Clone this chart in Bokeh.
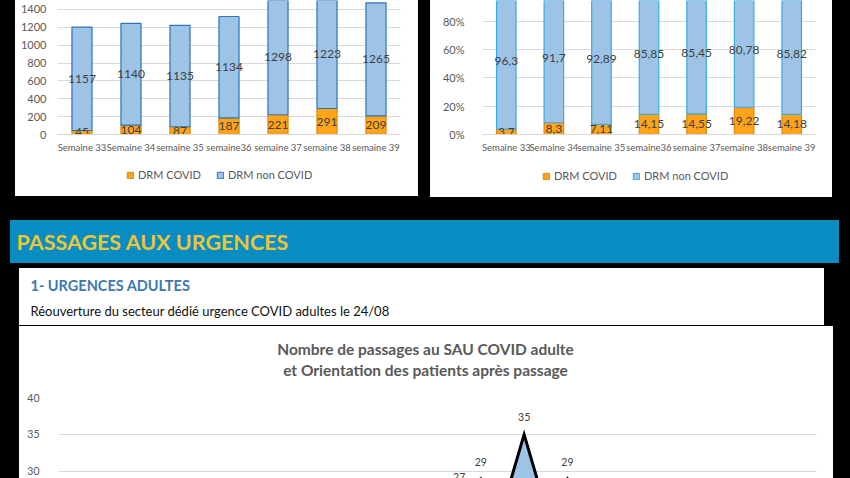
from bokeh.plotting import figure
from bokeh.layouts import column, row
from bokeh.models import (ColumnDataSource, FactorRange, Range1d, FixedTicker,
                          PrintfTickFormatter, Label, Spacer, CDSView,
                          BooleanFilter)
from bokeh.core.properties import value
from bokeh.embed import file_html
from bokeh.resources import INLINE

try:
    from bokeh.models import GlobalInlineStyleSheet
    SHEETS = [GlobalInlineStyleSheet(css="html, body { margin: 0; padding: 0; background: black; overflow: hidden; }")]
except Exception:
    SHEETS = []

# ---------------- data ----------------
weeks = ["Semaine 33", "Semaine 34", "semaine 35", "semaine36",
         "semaine 37", "semaine 38", "semaine 39"]
drm_covid = [45, 104, 87, 187, 221, 291, 209]
drm_non_covid = [1157, 1140, 1135, 1134, 1298, 1223, 1265]
pct_covid = [3.7, 8.3, 7.11, 14.15, 14.55, 19.22, 14.18]
pct_non_covid = [96.3, 91.7, 92.89, 85.85, 85.45, 80.78, 85.82]

days = ["24/08", "25/08", "26/08", "27/08", "28/08", "29/08", "30/08",
        "31/08", "01/09", "02/09", "03/09", "04/09", "05/09", "06/09",
        "07/09", "08/09", "09/09", "10/09", "11/09", "12/09", "13/09",
        "14/09", "15/09", "16/09", "17/09", "18/09", "19/09", "20/09",
        "21/09", "22/09", "23/09", "24/09", "25/09", "26/09", "27/09"]
passages = [8, 12, 10, 14, 11, 9, 7, 13, 15, 12, 16, 14, 10, 9, 18, 20, 17,
            22, 27, 29, 25, 35, 25, 29, 24, 21, 16, 23, 25, 22, 24, 19, 15,
            21, 20]

FONT = "Lato"
GRAY = "#595959"
LBL = "#404040"
GRID = "#D9D9D9"
ORANGE = "#FFA31A"
ORANGE_EDGE = "#E08A0A"
BLUE = "#9DC3E6"
BLUE_EDGE = "#2E75B6"
CYAN_EDGE = "#3AAAE0"


def fr(v):
    return ("%g" % v).replace(".", ",")


def paint(p, color):
    p.outline_line_color = None
    p.background_fill_color = color
    p.border_fill_color = color
    p.styles = {"background-color": color}


def style_bar_fig(p, standoff):
    paint(p, "white")
    p.xgrid.grid_line_color = None
    p.ygrid.grid_line_color = GRID
    p.yaxis.axis_line_color = None
    p.yaxis.major_tick_line_color = None
    p.yaxis.minor_tick_line_color = None
    p.yaxis.major_label_standoff = standoff
    p.yaxis.major_label_text_font = FONT
    p.yaxis.major_label_text_font_size = "11px"
    p.yaxis.major_label_text_color = GRAY
    p.xaxis.axis_line_color = GRID
    p.xaxis.major_tick_line_color = None
    p.xaxis.minor_tick_line_color = None
    p.xaxis.major_tick_out = 0
    p.xaxis.major_label_standoff = 7
    p.xaxis.major_label_text_font = FONT
    p.xaxis.major_label_text_font_size = "9.5px"
    p.xaxis.major_label_text_color = GRAY


def blank(w, h, color, left=0, right=0):
    p = figure(width=w, height=h, x_range=Range1d(left, w - right),
               y_range=Range1d(h, 0), x_axis_location=None,
               y_axis_location=None, min_border=0, min_border_left=left,
               min_border_right=right, toolbar_location=None,
               output_backend="svg")
    p.grid.visible = False
    paint(p, color)
    return p


def legend_fig(w, h, left, right, src, edge, loc):
    p = blank(w, h, "white", left, right)
    a = p.vbar(x="c", top="c", width=1, source=src, fill_color=ORANGE,
               line_color=ORANGE_EDGE, legend_label="DRM COVID")
    b = p.vbar(x="c", top="c", width=1, source=src, fill_color=BLUE,
               line_color=edge, legend_label="DRM non COVID")
    a.visible = False
    b.visible = False
    lg = p.legend[0]
    lg.location = loc
    lg.orientation = "horizontal"
    lg.glyph_width = 8
    lg.glyph_height = 8
    lg.label_height = 12
    lg.label_standoff = 4
    lg.spacing = 15
    lg.padding = 0
    lg.margin = 0
    lg.border_line_color = None
    lg.background_fill_alpha = 0
    lg.inactive_fill_alpha = 0
    lg.label_text_font = FONT
    lg.label_text_font_size = "11px"
    lg.label_text_color = GRAY
    return p


# ---------------- chart 1: counts ----------------
tot = [a + b for a, b in zip(drm_covid, drm_non_covid)]
src1 = ColumnDataSource(dict(
    x=weeks, c=drm_covid, t=tot,
    cm=[v / 2 for v in drm_covid],
    nm=[a + b / 2 for a, b in zip(drm_covid, drm_non_covid)],
    ct=[str(v) for v in drm_covid], nt=[str(v) for v in drm_non_covid]))

f1 = figure(width=403, height=155, x_range=FactorRange(*weeks, range_padding=0),
            y_range=Range1d(0, 1500), min_border_left=42, min_border_right=18,
            min_border_top=0, min_border_bottom=20, toolbar_location=None,
            output_backend="svg")
f1.yaxis.ticker = FixedTicker(ticks=[0, 200, 400, 600, 800, 1000, 1200, 1400])
style_bar_fig(f1, 5)
f1.vbar(x="x", top="c", bottom=0, width=0.41, source=src1, fill_color=ORANGE,
        line_color=ORANGE_EDGE, line_width=1.2)
f1.vbar(x="x", top="t", bottom="c", width=0.41, source=src1, fill_color=BLUE,
        line_color=BLUE_EDGE, line_width=1.2)
for ycol, tcol in (("cm", "ct"), ("nm", "nt")):
    f1.text(x="x", y=ycol, text=tcol, source=src1, text_align="center",
            text_baseline="middle", text_font=value(FONT),
            text_font_size="12px", text_color=LBL)
lf1 = legend_fig(403, 41, 42, 18, src1, BLUE_EDGE, (69, 15))

# ---------------- chart 2: percentages ----------------
src2 = ColumnDataSource(dict(
    x=weeks, c=pct_covid, t=[a + b for a, b in zip(pct_covid, pct_non_covid)],
    cm=[v / 2 for v in pct_covid],
    nm=[a + b / 2 for a, b in zip(pct_covid, pct_non_covid)],
    ct=[fr(v) for v in pct_covid], nt=[fr(v) for v in pct_non_covid]))

f2 = figure(width=402, height=155, x_range=FactorRange(*weeks, range_padding=0),
            y_range=Range1d(0, 137 / 1.45), min_border_left=52,
            min_border_right=17, min_border_top=0, min_border_bottom=18,
            toolbar_location=None, output_backend="svg")
f2.yaxis.ticker = FixedTicker(ticks=[0, 20, 40, 60, 80])
f2.yaxis.formatter = PrintfTickFormatter(format="%d%%")
style_bar_fig(f2, 12)
f2.vbar(x="x", top="c", bottom=0, width=0.41, source=src2, fill_color=ORANGE,
        line_color=ORANGE_EDGE, line_width=1.2)
f2.vbar(x="x", top="t", bottom="c", width=0.41, source=src2, fill_color=BLUE,
        line_color=CYAN_EDGE, line_width=1.2)
for ycol, tcol in (("cm", "ct"), ("nm", "nt")):
    f2.text(x="x", y=ycol, text=tcol, source=src2, text_align="center",
            text_baseline="middle", text_font=value(FONT),
            text_font_size="12px", text_color=LBL)
lf2 = legend_fig(402, 42, 52, 17, src2, CYAN_EDGE, (60, 15))

# ---------------- banner and text box ----------------
banner = blank(829, 43, "#088DC2")
banner.add_layout(Label(x=6, y=21, text="PASSAGES AUX URGENCES",
                        text_baseline="middle", text_font=FONT,
                        text_font_style="bold", text_font_size="21.5px",
                        text_color="#EEC537"))

box = blank(805, 57, "white")
box.add_layout(Label(x=11, y=17, text="1- URGENCES ADULTES",
                     text_baseline="middle", text_font=FONT,
                     text_font_style="bold", text_font_size="14.5px",
                     text_color="#3E78B2"))
box.add_layout(Label(x=11, y=42,
                     text="Réouverture du secteur dédié urgence COVID adultes le 24/08",
                     text_baseline="middle", text_font=FONT,
                     text_font_size="13px", text_color="#111111"))

# ---------------- chart 3: SAU COVID ----------------
tf3 = blank(814, 61, "white", 39, 17)
for ty, txt in ((22, "Nombre de passages au SAU COVID adulte"),
                (43, "et Orientation des patients après passage")):
    tf3.add_layout(Label(x=406, y=ty, text=txt, text_align="center",
                         text_baseline="middle", text_font=FONT,
                         text_font_style="bold", text_font_size="15.5px",
                         text_color=GRAY))

idx = list(range(len(days)))
src3 = ColumnDataSource(dict(x=idx, y=passages, d=days,
                             lab=[str(v) for v in passages]))
f3 = figure(width=814, height=91, x_range=Range1d(-0.5, len(days) - 0.5),
            y_range=Range1d(29.05, 40), min_border_left=39, min_border_right=17,
            min_border_top=10, min_border_bottom=0, x_axis_location=None,
            toolbar_location=None, output_backend="svg")
paint(f3, "white")
f3.xgrid.grid_line_color = None
f3.ygrid.grid_line_color = GRID
f3.yaxis.ticker = FixedTicker(ticks=[30, 35, 40])
f3.yaxis.axis_line_color = None
f3.yaxis.major_tick_line_color = None
f3.yaxis.minor_tick_line_color = None
f3.yaxis.major_label_standoff = 13
f3.yaxis.major_label_text_font = FONT
f3.yaxis.major_label_text_font_size = "10.5px"
f3.yaxis.major_label_text_color = GRAY
f3.varea(x="x", y1=0, y2="y", source=src3, fill_color=BLUE)
f3.line(x="x", y="y", source=src3, line_color="black", line_width=3,
        line_join="miter")
# only the labels that fall inside the visible window are drawn
shown = CDSView(filter=BooleanFilter([v >= 27 for v in passages]))
f3.text(x="x", y="y", text="lab", source=src3, view=shown, y_offset=-17,
        text_align="center", text_baseline="middle", text_font=value(FONT),
        text_font_size="10.5px", text_color=LBL)

# ---------------- layout ----------------
BK = {"background-color": "black"}


def sp(w, h):
    return Spacer(width=w, height=h, styles=BK)


row1 = row(sp(15, 197), column(f1, lf1, styles=BK), sp(12, 197),
           column(f2, lf2, styles=BK), sp(18, 197), styles=BK)
row2 = row(sp(10, 43), banner, sp(11, 43), styles=BK)
row3 = row(sp(19, 57), box, sp(26, 57), styles=BK)
row4 = row(sp(19, 152), column(tf3, f3, styles=BK), sp(17, 152), styles=BK)
page = column(row1, sp(850, 23), row2, sp(850, 5), row3, sp(850, 1), row4,
              styles=BK, stylesheets=SHEETS)

open("out.html", "w").write(file_html(page, INLINE))
